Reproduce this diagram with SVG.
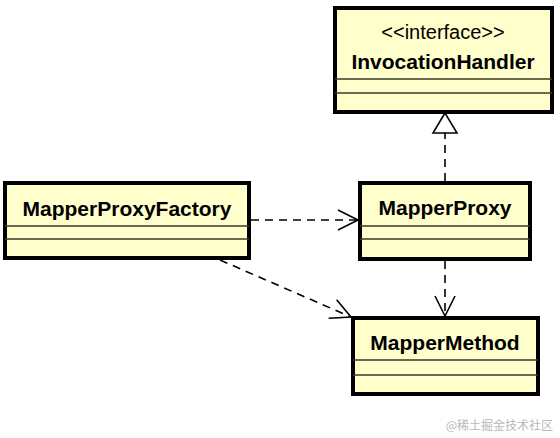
<svg xmlns="http://www.w3.org/2000/svg" width="560" height="438" viewBox="0 0 560 438">
<defs>
<style>
.box{fill:#ffffcc;stroke:#000;stroke-width:4}
.sep{stroke:#3a3a28;stroke-width:1.3}
.name{font-family:"Liberation Sans",Arial,sans-serif;font-weight:bold;font-size:21px;fill:#000;text-anchor:middle}
.ster{font-family:"Liberation Sans",Arial,sans-serif;font-size:20px;fill:#000;text-anchor:middle}
.dash{fill:none;stroke:#000;stroke-width:1.6;stroke-dasharray:8,6}
.head{fill:none;stroke:#000;stroke-width:1.6}
</style>
<marker id="open" viewBox="0 0 24 24" refX="22" refY="12" markerWidth="24" markerHeight="24" markerUnits="userSpaceOnUse" orient="auto">
<path d="M2,2 L22,12 L2,22" class="head"/>
</marker>
</defs>
<g id="InvocationHandler">
<rect class="box" x="335" y="8" width="217" height="104"/>
<line class="sep" x1="335" y1="79" x2="552" y2="79"/>
<line class="sep" x1="335" y1="93" x2="552" y2="93"/>
<text class="ster" x="443" y="39">&lt;&lt;interface&gt;&gt;</text>
<text class="name" x="443" y="69">InvocationHandler</text>
</g>
<g id="MapperProxyFactory">
<rect class="box" x="5" y="183" width="244" height="75"/>
<line class="sep" x1="5" y1="226" x2="249" y2="226"/>
<line class="sep" x1="5" y1="239" x2="249" y2="239"/>
<text class="name" x="127" y="216">MapperProxyFactory</text>
</g>
<g id="MapperProxy">
<rect class="box" x="360" y="183" width="170" height="76"/>
<line class="sep" x1="360" y1="226" x2="530" y2="226"/>
<line class="sep" x1="360" y1="239" x2="530" y2="239"/>
<text class="name" x="445" y="215">MapperProxy</text>
</g>
<g id="MapperMethod">
<rect class="box" x="353" y="318" width="185" height="76"/>
<line class="sep" x1="353" y1="360" x2="538" y2="360"/>
<line class="sep" x1="353" y1="375" x2="538" y2="375"/>
<text class="name" x="445" y="350">MapperMethod</text>
</g>
<g id="connectors">
<line class="dash" x1="445" y1="181" x2="445" y2="133"/>
<path d="M445,113 L433,133 L457,133 Z" fill="#fff" stroke="#000" stroke-width="1.6"/>
<line class="dash" x1="445" y1="261" x2="445" y2="316" marker-end="url(#open)"/>
<line class="dash" x1="251" y1="220" x2="358" y2="220" marker-end="url(#open)"/>
<line class="dash" x1="220" y1="260" x2="351" y2="317" marker-end="url(#open)"/>
</g>
<text x="553" y="430" font-family="'Noto Sans CJK SC',sans-serif" font-size="12" fill="#b8b8b8" text-anchor="end">@稀土掘金技术社区</text>
</svg>
